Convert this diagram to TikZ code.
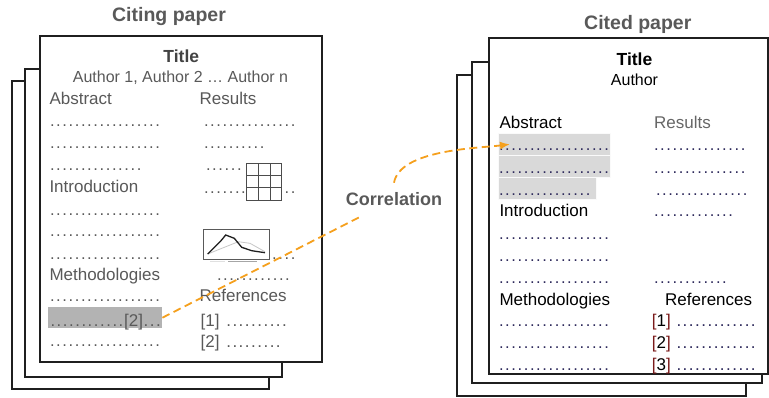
\documentclass[tikz,border=0pt]{standalone}
\usepackage{fontspec}
\setmainfont{Liberation Sans}
\usetikzlibrary{arrows.meta}
\definecolor{txtgray}{HTML}{595959}
\definecolor{pageline}{HTML}{1F1F1F}
\definecolor{hlgray}{HTML}{B3B3B3}
\definecolor{hllight}{HTML}{D9D9D9}
\definecolor{dotnavy}{HTML}{2E2A5C}
\definecolor{refred}{HTML}{7A1A1A}
\definecolor{corrorange}{HTML}{F5A01E}

\newcommand\dotrow[1]{\foreach \k in {1,...,#1}{\hbox to 6.2pt{\hss.\hss}}}
\newcommand\refnum[1]{\textcolor{refred}{[}#1\textcolor{refred}{]}}

\tikzset{
  pagebox/.style={draw=pageline, line width=1.6pt, fill=white},
  heading/.style={font=\fontsize{19.5}{22}\selectfont\bfseries, text=txtgray, inner sep=0pt, anchor=base},
  titletxt/.style={font=\fontsize{17.5}{20}\selectfont\bfseries, inner sep=0pt, anchor=base},
  authortxt/.style={font=\fontsize{16}{19}\selectfont, inner sep=0pt, anchor=base},
  sec/.style={font=\fontsize{17}{20}\selectfont, inner sep=0pt, anchor=base west},
  citing/.style={text=txtgray},
  cited/.style={text=black},
  citedots/.style={sec, font=\fontsize{16.5}{20}\selectfont, text=txtgray},
  citeddots/.style={sec, font=\fontsize{16.5}{20}\selectfont, text=dotnavy},
  hlrect/.style={fill=hllight, draw=white!88!hllight, line width=0.6pt, minimum height=22pt, inner sep=0pt, anchor=north west},
  gridline/.style={draw=pageline!80, line width=1pt},
  plotframe/.style={draw=black!65, line width=1pt, fill=white},
  link/.style={draw=corrorange, line width=1.8pt, dash pattern=on 8pt off 4.5pt},
  corrlabel/.style={font=\fontsize{18}{21}\selectfont\bfseries, text=txtgray, inner xsep=2pt, inner ysep=10pt},
}

\begin{document}
\begin{tikzpicture}[x=1pt,y=-1pt]
\useasboundingbox (0,0) rectangle (769,397);

%Pages
\draw[pagebox] (12,81) rectangle (269,389);
\draw[pagebox] (25,69) rectangle (282,377);
\draw[pagebox] (40,36) rectangle (322,362);
\draw[pagebox] (457,75) rectangle (746,396);
\draw[pagebox] (472,62) rectangle (762,383);
\draw[pagebox] (489,38) rectangle (768,374);

%Headings
\node[heading] (citing) at (169,21.7) {Citing paper};
\node[heading] (cited) at (637.8,29.3) {Cited paper};

%Citing paper
\node[titletxt, text=txtgray!75!black] (ltitle) at (181.3,62) {Title};
\node[authortxt, citing] (lauthor) at (180.5,82) {Author 1, Author 2 … Author n};
\node[sec, citing] (labs) at (49.3,104) {Abstract};
\node[sec, citing] (lres) at (199.5,104) {Results};
\node[citedots] (labs1) at (49,126.7) {\dotrow{18}};
\node[citedots] (labs2) at (49,148) {\dotrow{18}};
\node[citedots] (labs3) at (49,170) {\dotrow{15}};
\node[citedots] (lres1) at (203,126.7) {\dotrow{15}};
\node[citedots] (lres2) at (203,148) {\dotrow{10}};
\node[citedots] (lres3) at (205,170) {\dotrow{6}};
\node[citedots] (lres4) at (203,193) {\dotrow{15}};
\draw[gridline, fill=white] (246.7,163.3) rectangle (281.7,200);
\foreach \x in {258.3,270} \draw[gridline] (\x,163.3) -- (\x,200);
\foreach \y in {175.5,187.8} \draw[gridline] (246.7,\y) -- (281.7,\y);
\node[sec, citing] (lintro) at (49.3,192.7) {Introduction};
\node[citedots] (lintro1) at (49,215) {\dotrow{18}};
\node[citedots] (lintro2) at (49,236.7) {\dotrow{18}};
\node[citedots] (lintro3) at (49,259.3) {\dotrow{18}};
\node[citedots] (lres5) at (203,259.3) {\dotrow{15}};
\draw[plotframe] (203,229) rectangle (269,259);
\draw[black!22, line width=0.8pt] (207.7,254) -- (238.3,241.7) -- (250,243.3) -- (265,251.7);
\draw[black!88, line width=1.3pt] (207.7,254) -- (221,240.7) -- (225.7,235) -- (234.3,238.3) -- (241.7,247.3) -- (251.7,250.7) -- (265,252.7);
\draw[black!35, line width=1.3pt] (228,261.5) -- (257,261.5);
\draw[black!12, line width=1.3pt] (210,261.5) -- (225,261.5);
\node[citedots] (lres6) at (216,280.7) {\dotrow{12}};
\node[sec, citing] (lmeth) at (49.3,280.7) {Methodologies};
\node[citedots] (lmeth1) at (49,301.7) {\dotrow{18}};
\node[fill=hlgray, minimum width=114pt, minimum height=21pt, inner sep=0pt, anchor=north west] (hl) at (48,307) {};
\node[citedots] (lmeth2) at (49.5,326) {\dotrow{12}\fontsize{17}{20}\selectfont[2]\dotrow{3}};
\node[citedots] (lmeth3) at (49,346.7) {\dotrow{18}};
\node[sec, citing] (lref) at (199.5,301.7) {References};
\node[citedots] (lref1) at (200.5,326) {\fontsize{17}{20}\selectfont[1]\hspace{6pt}\dotrow{10}};
\node[citedots] (lref2) at (200.5,347) {\fontsize{17}{20}\selectfont[2]\hspace{6pt}\dotrow{9}};

%Cited paper
\node[hlrect, minimum width=112pt] (cab1) at (498,133) {};
\node[hlrect, minimum width=112pt] (cab2) at (498,155) {};
\node[hlrect, minimum width=98pt] (cab3) at (498,177) {};
\node[titletxt, cited] (rtitle) at (634.5,65) {Title};
\node[authortxt, cited] (rauthor) at (634.5,85) {Author};
\node[sec, cited] (rabs) at (499.3,128.3) {Abstract};
\node[sec, text=black!60] (rres) at (654,128.3) {Results};
\node[citeddots] (rabs1) at (498,150) {\dotrow{18}};
\node[citeddots] (rabs2) at (498,173.3) {\dotrow{18}};
\node[citeddots] (rabs3) at (498,195) {\dotrow{15}};
\node[citeddots] (rres1) at (653,150) {\dotrow{15}};
\node[citeddots] (rres2) at (653,173.3) {\dotrow{15}};
\node[citeddots] (rres3) at (655,195) {\dotrow{15}};
\node[sec, cited] (rintro) at (499.3,216.7) {Introduction};
\node[citeddots] (rres4) at (653,216.7) {\dotrow{13}};
\node[citeddots] (rintro1) at (498,239.3) {\dotrow{18}};
\node[citeddots] (rintro2) at (498,261.7) {\dotrow{18}};
\node[citeddots] (rintro3) at (498,283.3) {\dotrow{18}};
\node[citeddots] (rres5) at (653,283.3) {\dotrow{12}};
\node[sec, cited] (rmeth) at (499.3,305) {Methodologies};
\node[sec, cited] (rref) at (665,305) {References};
\node[citeddots] (rmeth1) at (498,326.7) {\dotrow{18}};
\node[citeddots] (rmeth2) at (498,348.3) {\dotrow{18}};
\node[citeddots] (rmeth3) at (498,370) {\dotrow{18}};
\node[citeddots] (rref1) at (651.7,326.7) {\fontsize{17}{20}\selectfont\textcolor{black}{\refnum{1}}\hspace{5pt}\dotrow{13}};
\node[citeddots] (rref2) at (651.7,348.3) {\fontsize{17}{20}\selectfont\textcolor{black}{\refnum{2}}\hspace{5pt}\dotrow{13}};
\node[citeddots] (rref3) at (651.7,370) {\fontsize{17}{20}\selectfont\textcolor{black}{\refnum{3}}\hspace{5pt}\dotrow{13}};

%Correlation
\node[corrlabel] (corr) at (394,199.5) {Correlation};
\draw[link] (hl.east) -- (corr);
\draw[link, -{Latex[length=10pt,width=8pt]}] (corr.north) .. controls +(6,-33) and +(-33,4) .. ([xshift=12pt]cab1.west);
\end{tikzpicture}
\end{document}
